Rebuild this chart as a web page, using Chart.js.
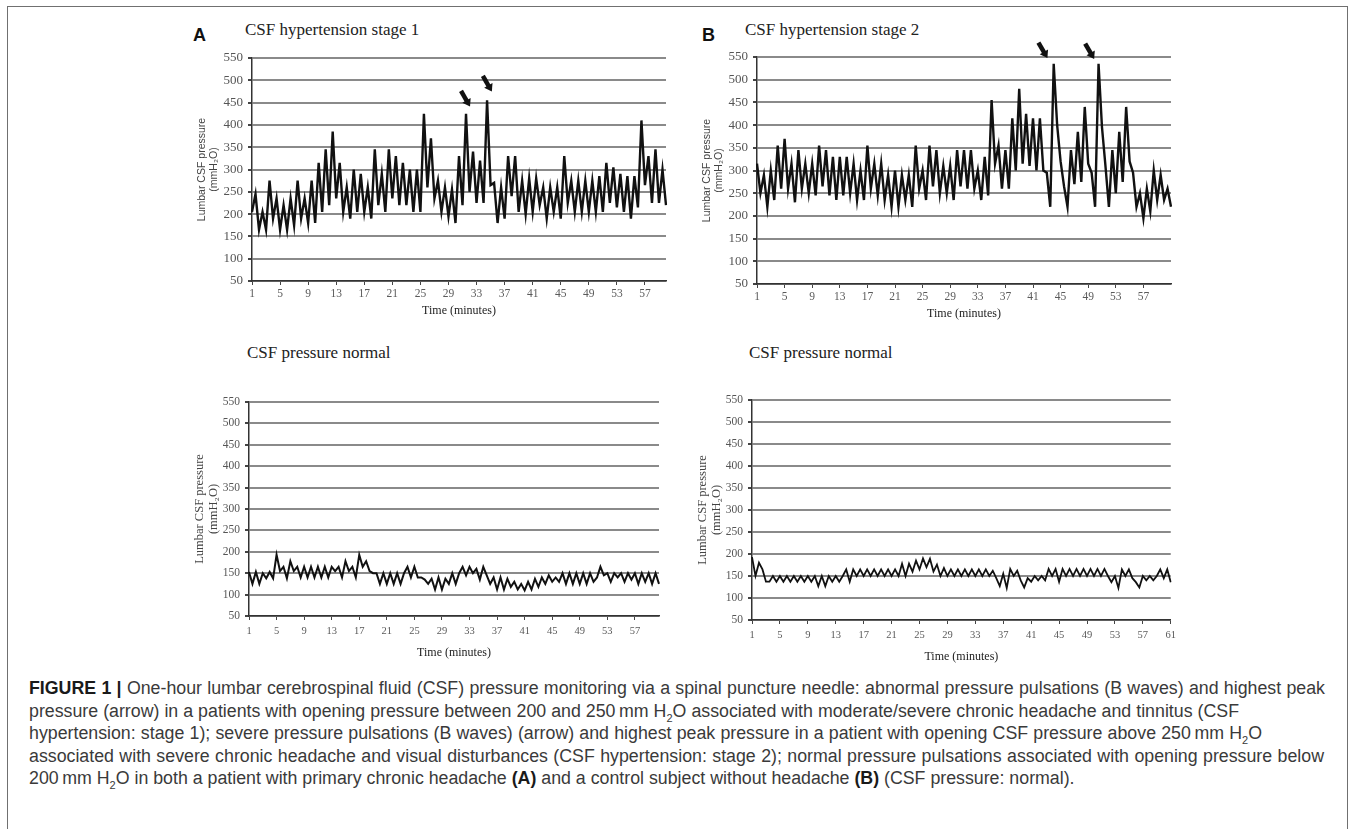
<!DOCTYPE html>
<html>
<head>
<meta charset="utf-8">
<title>CSF pressure monitoring</title>
<script src="https://cdn.jsdelivr.net/npm/chart.js@4.4.0/dist/chart.umd.min.js"></script>
<style>
  html, body { margin: 0; padding: 0; background: #fff; }
  body { width: 1357px; height: 829px; position: relative; overflow: hidden; }
  .frame { position: absolute; left: 7px; top: 6px; width: 1341px; height: 860px; border: 1.5px solid #707070; box-sizing: border-box; }
  canvas { position: absolute; }
  .panel-letter { position: absolute; font-family: 'Liberation Sans', Arial, sans-serif; font-weight: bold; font-size: 18px; line-height: 18px; color: #111; }
  .panel-title { position: absolute; font-family: 'Liberation Serif', serif; font-size: 17px; line-height: 17px; color: #222; white-space: nowrap; }
  .caption { position: absolute; left: 29px; top: 677px; font-family: 'Liberation Sans', Arial, sans-serif; font-size: 16px; line-height: 22.5px; color: #3a3a3a; }
  .cap-line { white-space: nowrap; }
  .cap-line b { color: #1a1a1a; }
</style>
</head>
<body>
<div class="frame"></div>

<div class="panel-letter" style="left:193px; top:26px;">A</div>
<div class="panel-title" style="left:245px; top:21px;">CSF hypertension stage 1</div>
<div class="panel-letter" style="left:702px; top:26px;">B</div>
<div class="panel-title" style="left:745px; top:21px;">CSF hypertension stage 2</div>
<div class="panel-title" style="left:247px; top:344px;">CSF pressure normal</div>
<div class="panel-title" style="left:749px; top:344px;">CSF pressure normal</div>

<canvas id="chart-a-top"></canvas>
<canvas id="chart-b-top"></canvas>
<canvas id="chart-a-bottom"></canvas>
<canvas id="chart-b-bottom"></canvas>

<div class="caption" id="caption">
  <div class="cap-line"><b>FIGURE 1 |</b> One-hour lumbar cerebrospinal fluid (CSF) pressure monitoring via a spinal puncture needle: abnormal pressure pulsations (B waves) and highest peak</div>
  <div class="cap-line">pressure (arrow) in a patients with opening pressure between 200 and 250&thinsp;mm H<sub style="font-size:11px;line-height:0">2</sub>O associated with moderate/severe chronic headache and tinnitus (CSF</div>
  <div class="cap-line">hypertension: stage 1); severe pressure pulsations (B waves) (arrow) and highest peak pressure in a patient with opening CSF pressure above 250&thinsp;mm H<sub style="font-size:11px;line-height:0">2</sub>O</div>
  <div class="cap-line">associated with severe chronic headache and visual disturbances (CSF hypertension: stage 2); normal pressure pulsations associated with opening pressure below</div>
  <div class="cap-line">200&thinsp;mm H<sub style="font-size:11px;line-height:0">2</sub>O in both a patient with primary chronic headache <b>(A)</b> and a control subject without headache <b>(B)</b> (CSF pressure: normal).</div>
</div>

<script>
'use strict';

// ******* DATA (one sample every half minute) *******
let sampleMinutes = 0.5;

// A: CSF hypertension stage 1 (mmH2O)
let stage1Pressure = [
  205, 245, 165, 205, 165, 275, 190, 235, 165, 220, 165, 235, 175, 275, 190, 235, 180, 275, 180, 315,
  205, 345, 220, 385, 235, 315, 205, 260, 190, 300, 205, 290, 205, 260, 190, 345, 220, 290, 205, 345,
  235, 330, 220, 315, 220, 300, 205, 300, 205, 425, 260, 370, 235, 275, 205, 260, 195, 255, 180, 330,
  220, 425, 250, 340, 225, 320, 225, 455, 265, 270, 180, 260, 190, 330, 240, 330, 205, 275, 200, 280,
  205, 280, 220, 260, 190, 260, 205, 260, 190, 330, 225, 275, 205, 275, 205, 275, 205, 275, 205, 285,
  205, 315, 225, 305, 215, 290, 205, 285, 190, 285, 215, 410, 265, 330, 225, 345, 225, 300, 220
];

// B: CSF hypertension stage 2 (mmH2O)
let stage2Pressure = [
  315, 250, 290, 220, 300, 235, 355, 260, 370, 260, 315, 230, 345, 260, 315, 250, 315, 245, 355, 265,
  345, 245, 330, 235, 330, 245, 330, 250, 315, 235, 300, 235, 355, 260, 315, 245, 315, 235, 290, 220,
  300, 220, 290, 235, 290, 220, 355, 260, 300, 235, 355, 265, 345, 250, 310, 250, 310, 235, 345, 265,
  345, 260, 345, 260, 300, 235, 330, 245, 455, 315, 355, 260, 345, 260, 415, 300, 480, 315, 425, 310,
  415, 300, 415, 300, 295, 220, 535, 400, 320, 265, 220, 345, 270, 385, 275, 440, 315, 295, 220, 535,
  395, 310, 220, 345, 250, 385, 275, 440, 320, 295, 220, 250, 195, 260, 210, 300, 235, 290, 235, 260,
  220
];

// A: CSF pressure normal (mmH2O)
let normalPressureA = [
  153, 125, 153, 125, 150, 138, 153, 138, 193, 155, 165, 138, 178, 155, 165, 140, 165, 140, 165, 140,
  165, 140, 165, 140, 165, 155, 165, 140, 178, 155, 165, 140, 193, 165, 178, 155, 150, 150, 125, 150,
  125, 150, 125, 150, 125, 150, 165, 140, 165, 140, 140, 135, 125, 137, 112, 140, 112, 137, 125, 150,
  125, 150, 165, 145, 165, 150, 160, 135, 165, 145, 125, 140, 112, 140, 112, 137, 118, 130, 112, 125,
  110, 130, 112, 137, 118, 140, 125, 145, 130, 140, 130, 150, 125, 150, 125, 150, 125, 150, 125, 150,
  130, 140, 165, 145, 150, 130, 150, 140, 150, 130, 150, 135, 150, 125, 150, 130, 150, 125, 150, 125
];

// B: CSF pressure normal (mmH2O)
let normalPressureB = [
  193, 150, 180, 165, 137, 137, 150, 137, 150, 137, 150, 137, 150, 137, 150, 137, 150, 137, 150, 127,
  150, 127, 150, 137, 150, 137, 150, 165, 137, 165, 150, 165, 150, 165, 150, 165, 150, 165, 150, 165,
  150, 165, 150, 178, 150, 178, 160, 185, 165, 190, 170, 189, 160, 176, 150, 168, 150, 165, 150, 165,
  150, 165, 150, 165, 150, 165, 150, 165, 150, 162, 145, 127, 155, 123, 166, 150, 162, 140, 124, 145,
  137, 150, 140, 150, 140, 166, 150, 166, 137, 166, 150, 166, 150, 166, 150, 166, 150, 166, 150, 166,
  150, 166, 150, 136, 150, 123, 165, 150, 165, 145, 136, 124, 150, 140, 150, 140, 150, 165, 145, 165,
  136
];

// labelled minutes on the time axes
let timeTicks = ['1', '5', '9', '13', '17', '21', '25', '29', '33', '37', '41', '45', '49', '53', '57'];
let timeTicksTo61 = timeTicks.concat(['61']);

// pressure axis
let pressureMin = 50;
let pressureMax = 550;
let pressureStep = 50;

let yTitle = ['Lumbar CSF pressure', '(mmH\u2082O)'];
let xTitle = 'Time (minutes)';


// ***** HELPERS *****
function minuteLabels(count) {
  let labels = [];
  for (let i = 0; i < count; i++) {
    labels.push(String(1 + i * sampleMinutes));
  }
  return labels;
}

// short black arrows pointing at the highest peaks
let peakArrowPlugin = {
  id: 'peakArrows',
  afterDatasetsDraw(chart, args, opts) {
    let marks = opts.marks || [];
    let meta = chart.getDatasetMeta(0);
    let ctx = chart.ctx;
    marks.forEach(function (m) {
      let pt = meta.data[m.index];
      let tipX = pt.x + m.dx;
      let tipY = pt.y + m.dy;
      let tailX = tipX - 9;
      let tailY = tipY - 15.5;
      let len = Math.hypot(tipX - tailX, tipY - tailY);
      let ux = (tipX - tailX) / len;
      let uy = (tipY - tailY) / len;
      let headLen = 7;
      let baseX = tipX - ux * headLen;
      let baseY = tipY - uy * headLen;
      ctx.save();
      ctx.strokeStyle = '#111';
      ctx.fillStyle = '#111';
      ctx.lineWidth = 4.5;
      ctx.beginPath();
      ctx.moveTo(tailX, tailY);
      ctx.lineTo(baseX + ux, baseY + uy);
      ctx.stroke();
      ctx.beginPath();
      ctx.moveTo(tipX, tipY);
      ctx.lineTo(baseX - uy * 4.8, baseY + ux * 4.8);
      ctx.lineTo(baseX + uy * 4.8, baseY - ux * 4.8);
      ctx.closePath();
      ctx.fill();
      ctx.restore();
    });
  }
};

function renderPanel(p) {
  let canvasElem = document.getElementById(p.id);
  let yW = 56;
  let padTop = 16;
  let padRight = 10;
  let left = Math.round(p.plot[0] - yW);
  let top = Math.round(p.plot[1] - padTop);
  let width = Math.round(p.plot[2] + padRight) - left;
  let height = Math.round(p.plot[3] + p.xH) - top;
  canvasElem.width = width;
  canvasElem.height = height;
  canvasElem.style.left = left + 'px';
  canvasElem.style.top = top + 'px';
  canvasElem.style.width = width + 'px';
  canvasElem.style.height = height + 'px';

  let tickList = p.ticks;

  let chartObj = {
    type: 'line',
    data: {
      labels: minuteLabels(p.values.length),
      datasets: [{
        data: p.values,
        borderColor: '#111',
        borderWidth: p.lineWidth,
        pointRadius: 0,
        tension: 0,
        fill: false
      }]
    },
    options: {
      responsive: false,
      animation: false,
      devicePixelRatio: 1,
      layout: { padding: { top: padTop, right: padRight, bottom: 0, left: 0 } },
      plugins: {
        legend: { display: false },
        tooltip: { enabled: false },
        peakArrows: { marks: p.arrows || [] }
      },
      scales: {
        x: {
          type: 'category',
          offset: false,
          afterFit: function (scale) { scale.height = p.xH; },
          grid: { drawOnChartArea: false, tickLength: 4, tickColor: '#444', lineWidth: 1 },
          border: { color: '#333', width: 1.5 },
          ticks: {
            autoSkip: false,
            maxRotation: 0,
            minRotation: 0,
            padding: p.xPad,
            color: '#5a5a5a',
            font: { family: 'Liberation Serif', size: p.xFont },
            callback: function (value) {
              let lab = this.getLabelForValue(value);
              return tickList.includes(lab) ? lab : null;
            }
          },
          title: {
            display: true,
            text: xTitle,
            color: '#222',
            padding: { top: 0, bottom: 0 },
            font: { family: 'Liberation Serif', size: 12 }
          }
        },
        y: {
          min: pressureMin,
          max: pressureMax,
          afterFit: function (scale) { scale.width = yW; },
          grid: { color: '#8a8a8a', lineWidth: 2, tickLength: 4, tickColor: '#444' },
          border: { color: '#333', width: 1.5 },
          ticks: {
            stepSize: pressureStep,
            padding: 5,
            color: '#555',
            font: { family: 'Liberation Serif', size: p.yFont }
          },
          title: {
            display: true,
            text: yTitle,
            color: '#444',
            padding: { top: 0, bottom: 0 },
            font: p.yTitleFont
          }
        }
      }
    },
    plugins: [peakArrowPlugin]
  };

  new Chart(canvasElem, chartObj);
}

function fitCaption() {
  let lines = document.querySelectorAll('.cap-line');
  let targets = [1296, 1210, 1233, 1295, 1059];
  let base = 16;
  let ratio = 10;
  lines.forEach(function (line, i) {
    if (i < 4) {
      ratio = Math.min(ratio, targets[i] / line.getBoundingClientRect().width);
    }
  });
  let caption = document.getElementById('caption');
  caption.style.fontSize = (base * Math.min(ratio, 1.15)) + 'px';
  lines.forEach(function (line, i) {
    line.style.display = 'block';
    if (i < 4) {
      line.style.width = targets[i] + 'px';
      line.style.textAlign = 'justify';
      line.style.textAlignLast = 'justify';
    } else {
      line.style.width = 'auto';
    }
  });
}


// **** EXECUTABLE CODE *****
document.querySelectorAll('.cap-line').forEach(function (l) { l.style.display = 'inline-block'; });
fitCaption();

let sansTitle = { family: 'Liberation Sans', size: 10.5, lineHeight: 1.15 };
let serifTitle = { family: 'Liberation Serif', size: 12.5, lineHeight: 1.1 };

renderPanel({
  id: 'chart-a-top', values: stage1Pressure, ticks: timeTicks,
  plot: [251.7, 58.3, 666, 281], xH: 37, xPad: 2, xFont: 11.5, yFont: 13,
  yTitleFont: sansTitle, lineWidth: 2.4,
  arrows: [{ index: 61, dx: 4, dy: -7.3 }, { index: 67, dx: 4.8, dy: -8.9 }]
});
renderPanel({
  id: 'chart-b-top', values: stage2Pressure, ticks: timeTicks,
  plot: [756.7, 57.3, 1170.7, 283.7], xH: 37, xPad: 2, xFont: 11.5, yFont: 13,
  yTitleFont: sansTitle, lineWidth: 2.4,
  arrows: [{ index: 86, dx: -6.3, dy: -5.8 }, { index: 99, dx: -4.4, dy: -4.8 }]
});
renderPanel({
  id: 'chart-a-bottom', values: normalPressureA, ticks: timeTicks,
  plot: [249, 401.7, 658.7, 615.7], xH: 44, xPad: 5, xFont: 10.5, yFont: 11.5,
  yTitleFont: serifTitle, lineWidth: 2
});
renderPanel({
  id: 'chart-b-bottom', values: normalPressureB, ticks: timeTicksTo61,
  plot: [751.7, 400.3, 1170.7, 620.3], xH: 44, xPad: 5, xFont: 10.5, yFont: 11.5,
  yTitleFont: serifTitle, lineWidth: 1.8
});
</script>
</body>
</html>
